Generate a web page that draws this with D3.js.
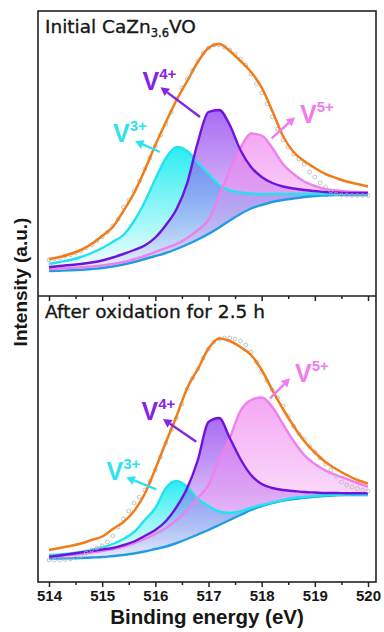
<!DOCTYPE html>
<html>
<head>
<meta charset="utf-8">
<script src="https://cdn.jsdelivr.net/npm/d3@7"></script>
<style>
  html, body { margin: 0; padding: 0; background: #ffffff; }
  svg { display: block; }
</style>
</head>
<body>
<svg id="chart" width="384" height="632"></svg>
<script>
// ---- V 2p3/2 XPS fits: binding energy grids (eV) ----
const energyFit = [514.0, 514.2, 514.4, 514.6, 514.8, 515.0, 515.2, 515.4, 515.6, 515.8,
  516.0, 516.2, 516.4, 516.6, 516.8, 517.0, 517.2, 517.4, 517.6, 517.8,
  518.0, 518.2, 518.4, 518.6, 518.8, 519.0, 519.2, 519.4, 519.6, 519.8, 520.0];
const energyRaw = [514.0, 514.1, 514.2, 514.3, 514.4, 514.5, 514.6, 514.7, 514.8, 514.9,
  515.0, 515.1, 515.2, 515.3, 515.4, 515.5, 515.6, 515.7, 515.8, 515.9,
  516.0, 516.1, 516.2, 516.3, 516.4, 516.5, 516.6, 516.7, 516.8, 516.9,
  517.0, 517.1, 517.2, 517.3, 517.4, 517.5, 517.6, 517.7, 517.8, 517.9,
  518.0, 518.1, 518.2, 518.3, 518.4, 518.5, 518.6, 518.7, 518.8, 518.9,
  519.0, 519.1, 519.2, 519.3, 519.4, 519.5, 519.6, 519.7, 519.8, 519.9, 520.0];

// ---- Initial CaZn3.6VO (intensity, a.u.) ----
const initialRaw = [36, 37, 38, 40, 41, 43, 45, 48, 51, 55, 59, 64, 70, 77, 89, 96, 105, 115, 127, 138,
  150, 161, 172, 184, 197, 208, 217, 226, 235, 243, 248, 251, 251, 249, 246, 242, 237, 231, 222, 212,
  203, 192, 179, 167, 156, 149, 142, 137, 132, 124, 119, 113, 109, 105, 102, 101, 101, 100.5, 100.5, 100.5, 100.5];
const initialEnvelope = [37, 39, 42, 46, 52, 60, 69, 85, 103, 126, 151, 174, 196, 215, 234, 248, 252, 245, 235, 224,
  208.5, 185, 160, 144, 135, 128, 122, 118, 114.5, 112, 109.5];
const initialBackground = [25, 25.3, 25.7, 26.2, 27, 28, 29.5, 31.5, 34, 37, 40, 43, 47, 51.5, 56.5, 62, 68.5, 75.5, 82, 87.5,
  91, 94, 96, 97.5, 99, 100, 100.5, 101, 101, 101, 101];
const initialV3 = [32, 34, 36, 39, 43, 48, 54.3, 61, 75, 94, 117, 138, 149, 145, 133, 122, 111, 105.5, 103.5, 102.5,
  102, 102, 102, 102, 102, 102, 102, 102, 102, 102, 102];
const initialV4 = [28.7, 30, 31, 32, 33.5, 35.5, 38.5, 42, 46, 50.5, 58.5, 71, 87, 113, 154, 184, 186, 171, 146, 129,
  119, 113, 109.5, 107.5, 106, 105, 104, 103.5, 103, 103, 103];
const initialV5 = [27, 27.5, 28, 28.7, 29.5, 30.5, 32, 34, 37, 40, 44, 48, 52, 58, 66, 76, 100, 126, 148, 162.5,
  160.5, 148, 132, 122, 114.5, 110, 107, 105.5, 104.5, 104, 103.5];

// ---- After oxidation for 2.5 h (intensity, a.u.) ----
const oxidizedRaw = [22, 22, 22, 22.5, 23, 24, 26, 29, 32, 34, 36, 40, 46, 55, 63, 71, 79, 85, 92, 101,
  112, 125, 139, 152, 164, 178, 193, 204, 213, 224, 233, 240, 243, 244, 244, 243, 241, 237, 230, 220,
  210, 201, 192, 184, 176, 166, 156, 148, 143, 136, 130, 124, 118, 112, 106, 100, 97, 95, 93.5, 92, 91];
const oxidizedEnvelope = [32, 34, 36, 38.5, 42, 45.5, 53, 60, 71, 88, 113, 140, 166, 194, 213, 233.5, 243.5, 241, 235, 227,
  212, 192, 173, 156, 141, 129.5, 120, 113, 107, 102, 98.5];
const oxidizedBackground = [23.5, 23.5, 23.7, 24, 24.5, 25, 26, 27, 28.5, 30.5, 33, 35.5, 39, 43, 47.5, 52, 57, 62, 67, 72,
  76, 79, 81.5, 83, 84.2, 85.2, 86, 86.7, 87, 87, 87];
const oxidizedV3 = [27, 27.5, 28.5, 30, 32, 34.5, 38, 43, 50, 62, 74, 94, 101, 95, 83, 76, 70.5, 69, 70.5, 74,
  77, 79.5, 82, 84, 85, 86, 86.7, 87.2, 87.5, 87.5, 87.5];
const oxidizedV4 = [25.3, 26.5, 28, 29.5, 31, 32.5, 34, 37, 40.5, 46, 52, 61, 75, 94, 122, 160, 164, 144, 123, 107,
  98, 94, 92, 91, 90, 89.5, 89, 89, 88.7, 88.7, 88.7];
const oxidizedV5 = [25.5, 26, 27, 28, 29.5, 31, 33, 35.5, 39, 43, 48, 54, 62, 72, 84, 97, 122, 144, 171, 182,
  184.5, 175, 158, 141, 127, 118, 111.5, 107, 103, 99, 95.5];

// ---- Axis ticks ----
const majorTicks = [514, 515, 516, 517, 518, 519, 520];
const minorTicks = [514.5, 515.5, 516.5, 517.5, 518.5, 519.5];

// ---- Oxidation-state annotations: [label energy, label intensity, arrow tail E, tail I, arrow head E, head I] ----
const chargeStates = ["3+", "4+", "5+"];
const initialNotes = [
  [515.204, 154.3, 516.088, 144, 515.617, 155],
  [515.758, 206, 516.84, 179, 516.097, 208.7],
  [518.721, 172.7, 518.188, 157.7, 518.627, 178.7]
];
const oxidizedNotes = [
  [515.081, 102, 516.018, 92.7, 515.454, 104.7],
  [515.74, 162, 516.77, 140.3, 516.144, 163],
  [518.627, 200.3, 518.157, 183.7, 518.533, 203.7]
];

// ---- Styling ----
const C = {
  envelope: "#f07d1a",
  background: "#1f9de2",
  v3: "#22e3ee",
  v4: "#7012de",
  v5: "#ee80ec",
  raw: "#b5b5b5",
  frame: "#222222",
  text: "#161616"
};
const componentColor = [C.v3, C.v4, C.v5];
const labelColor = ["#2ee2ee", "#8424e4", "#f07cf0"];
const fillStops = [
  ["#20ecf0", 0.95, 0.04],
  ["#9b52f0", 0.85, 0.08],
  ["#f18af0", 0.75, 0.05]
];
const SANS = '"Liberation Sans", Arial, Helvetica, sans-serif';

const svg = d3.select("#chart");
const defs = svg.append("defs");

const frame = { left: 38, right: 376, top: 11, mid: 296, bottom: 582 };
const x = d3.scaleLinear().domain([514, 520]).range([49, 368]);

const panels = [
  {
    id: "initial",
    y: d3.scaleLinear().domain([0, 285]).range([frame.mid, frame.top]),
    top: frame.top,
    raw: initialRaw, envelope: initialEnvelope, background: initialBackground,
    components: [initialV3, initialV4, initialV5],
    notes: initialNotes,
    title: [["Initial CaZn", 0], ["3.6", 1], ["VO", 0]]
  },
  {
    id: "oxidized",
    y: d3.scaleLinear().domain([0, 286]).range([frame.bottom, frame.mid]),
    top: frame.mid,
    raw: oxidizedRaw, envelope: oxidizedEnvelope, background: oxidizedBackground,
    components: [oxidizedV3, oxidizedV4, oxidizedV5],
    notes: oxidizedNotes,
    title: [["After oxidation for 2.5 h", 0]]
  }
];

const smooth = d3.curveMonotoneX;

panels.forEach(p => {
  const g = svg.append("g").attr("class", "panel-" + p.id);
  const y = p.y;

  // shaded component areas between background and each fitted peak
  p.components.forEach((comp, i) => {
    const gid = `grad-${p.id}-${i}`;
    const grad = defs.append("linearGradient").attr("id", gid)
      .attr("x1", 0).attr("y1", 0).attr("x2", 0).attr("y2", 1);
    grad.append("stop").attr("offset", "0%")
      .attr("stop-color", fillStops[i][0]).attr("stop-opacity", fillStops[i][1]);
    grad.append("stop").attr("offset", "100%")
      .attr("stop-color", fillStops[i][0]).attr("stop-opacity", fillStops[i][2]);

    const area = d3.area()
      .x((d, k) => x(energyFit[k]))
      .y0((d, k) => y(p.background[k]))
      .y1(d => y(d))
      .curve(smooth);
    g.append("path").datum(comp)
      .attr("d", area)
      .attr("fill", `url(#${gid})`);
  });

  const line = d3.line()
    .x((d, k) => x(energyFit[k]))
    .y(d => y(d))
    .curve(smooth);

  // background
  g.append("path").datum(p.background).attr("d", line)
    .attr("fill", "none").attr("stroke", C.background).attr("stroke-width", 2.4);

  // component outlines: V3+, V5+, V4+
  [0, 2, 1].forEach(i => {
    g.append("path").datum(p.components[i]).attr("d", line)
      .attr("fill", "none").attr("stroke", componentColor[i]).attr("stroke-width", 2.4);
  });

  // measured spectrum
  g.append("g").selectAll("circle").data(p.raw).join("circle")
    .attr("cx", (d, k) => x(energyRaw[k]))
    .attr("cy", d => y(d))
    .attr("r", 1.9)
    .attr("fill", "none")
    .attr("stroke", C.raw)
    .attr("stroke-width", 0.8);

  // fitted envelope
  g.append("path").datum(p.envelope).attr("d", line)
    .attr("fill", "none").attr("stroke", C.envelope).attr("stroke-width", 2.5);

  // oxidation-state labels with arrows
  p.notes.forEach((n, i) => {
    const col = labelColor[i];
    const x1 = x(n[2]), y1 = y(n[3]), x2 = x(n[4]), y2 = y(n[5]);
    const ang = Math.atan2(y2 - y1, x2 - x1);
    const headLen = 8.5, headHalf = 4.6;
    const bx = x2 - headLen * Math.cos(ang), by = y2 - headLen * Math.sin(ang);
    g.append("line")
      .attr("x1", x1).attr("y1", y1).attr("x2", bx).attr("y2", by)
      .attr("stroke", col).attr("stroke-width", 2.4);
    g.append("path")
      .attr("d", `M${x2},${y2}L${bx + headHalf * Math.sin(ang)},${by - headHalf * Math.cos(ang)}L${bx - headHalf * Math.sin(ang)},${by + headHalf * Math.cos(ang)}Z`)
      .attr("fill", col);

    const t = g.append("text")
      .attr("x", x(n[0])).attr("y", y(n[1]))
      .attr("fill", col)
      .style("font-family", SANS).style("font-weight", "bold").style("font-size", "25px");
    t.append("tspan").text("V");
    t.append("tspan").attr("dy", -11).style("font-size", "15px").text(chargeStates[i]);
  });

  // panel title
  const title = g.append("text")
    .attr("x", frame.left + 7).attr("y", p.top + 22)
    .attr("fill", C.text)
    .attr("stroke", C.text).attr("stroke-width", 0.35)
    .style("font-family", '"DejaVu Sans", Verdana, sans-serif').style("font-size", "18.5px");
  let shift = 0;
  p.title.forEach(([str, sub]) => {
    const want = sub ? 4 : 0;
    title.append("tspan").attr("dy", want - shift)
      .style("font-size", sub ? "11.5px" : "18.5px").text(str);
    shift = want;
  });
});

// frame and panel divider
svg.append("rect")
  .attr("x", frame.left).attr("y", frame.top)
  .attr("width", frame.right - frame.left).attr("height", frame.bottom - frame.top)
  .attr("fill", "none").attr("stroke", C.frame).attr("stroke-width", 1.6);
svg.append("line")
  .attr("x1", frame.left).attr("x2", frame.right)
  .attr("y1", frame.mid).attr("y2", frame.mid)
  .attr("stroke", C.frame).attr("stroke-width", 1.6);

// energy axes: ticks under the upper panel, labelled ticks under the lower one
function drawAxis(yPos, labelled) {
  const major = svg.append("g").attr("transform", `translate(0,${yPos})`)
    .call(d3.axisBottom(x).tickValues(majorTicks).tickSize(5).tickPadding(3)
      .tickFormat(labelled ? d3.format("d") : () => ""));
  major.select(".domain").remove();
  major.selectAll(".tick line").attr("stroke", C.frame).attr("stroke-width", 1.5);
  major.selectAll(".tick text")
    .attr("fill", C.text)
    .style("font-family", SANS).style("font-weight", "bold").style("font-size", "15px");
  const minor = svg.append("g").attr("transform", `translate(0,${yPos})`)
    .call(d3.axisBottom(x).tickValues(minorTicks).tickSize(3).tickFormat(() => ""));
  minor.select(".domain").remove();
  minor.selectAll(".tick line").attr("stroke", C.frame).attr("stroke-width", 1.5);
}
drawAxis(frame.mid, false);
drawAxis(frame.bottom, true);

// axis titles
svg.append("text")
  .attr("x", (frame.left + frame.right) / 2).attr("y", 624)
  .attr("text-anchor", "middle").attr("fill", C.text)
  .style("font-family", SANS).style("font-weight", "bold").style("font-size", "20.5px")
  .text("Binding energy (eV)");
svg.append("text")
  .attr("transform", "translate(27,282) rotate(-90)")
  .attr("text-anchor", "middle").attr("fill", C.text)
  .style("font-family", SANS).style("font-weight", "bold").style("font-size", "19px")
  .text("Intensity (a.u.)");
</script>
</body>
</html>
